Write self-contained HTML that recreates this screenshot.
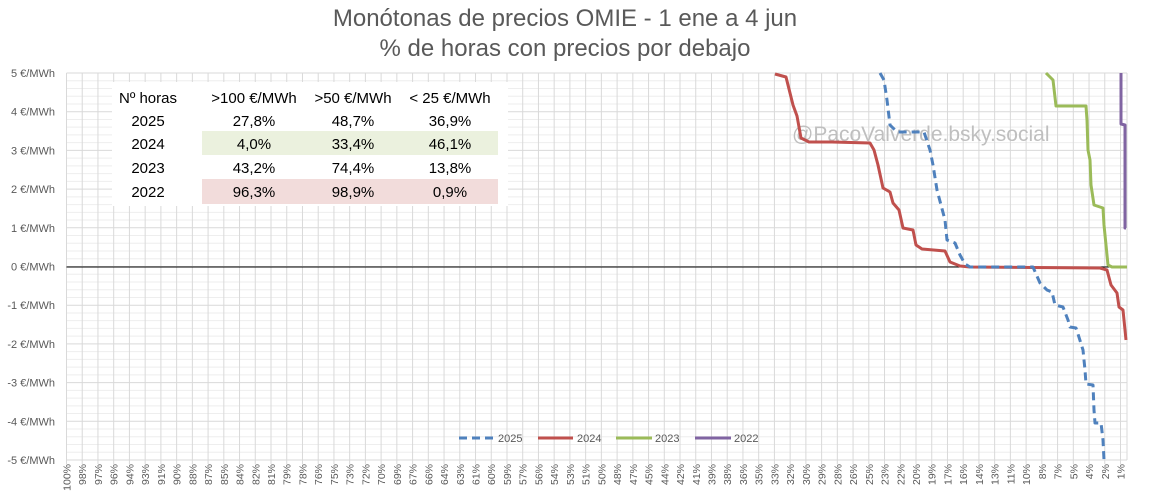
<!DOCTYPE html>
<html><head><meta charset="utf-8"><style>
body{margin:0;background:#fff;}
svg{display:block;font-family:"Liberation Sans",sans-serif;}
</style></head><body>
<svg id="s" width="1156" height="500" xmlns="http://www.w3.org/2000/svg">
<rect width="1156" height="500" fill="#fff"/>
<g id="grid"></g>
<text x="565" y="26" text-anchor="middle" font-size="24" fill="#595959">Monótonas de precios OMIE - 1 ene a 4 jun</text>
<text x="565" y="56" text-anchor="middle" font-size="24" fill="#595959">% de horas con precios por debajo</text>
<g id="yl" font-size="11" fill="#595959" text-anchor="end"></g>
<g id="xl" font-size="10.5" fill="#595959"></g>
<rect x="112" y="82" width="396" height="124" fill="#fff"/>
<rect x="202" y="131" width="296" height="24" fill="#ebf1de"/>
<rect x="202" y="179" width="296" height="25" fill="#f2dcdb"/>
<g font-size="15" fill="#000" text-anchor="middle">
<text x="148" y="103">Nº horas</text><text x="254" y="103">&gt;100 €/MWh</text><text x="353" y="103">&gt;50 €/MWh</text><text x="450" y="103">&lt; 25 €/MWh</text>
<text x="148" y="126">2025</text><text x="254" y="126">27,8%</text><text x="353" y="126">48,7%</text><text x="450" y="126">36,9%</text>
<text x="148" y="149">2024</text><text x="254" y="149">4,0%</text><text x="353" y="149">33,4%</text><text x="450" y="149">46,1%</text>
<text x="148" y="173">2023</text><text x="254" y="173">43,2%</text><text x="353" y="173">74,4%</text><text x="450" y="173">13,8%</text>
<text x="148" y="197">2022</text><text x="254" y="197">96,3%</text><text x="353" y="197">98,9%</text><text x="450" y="197">0,9%</text>
</g>
<text x="792" y="141" font-size="21" fill="#bfbfbf">@PacoValverde.bsky.social</text>
<line x1="66.5" y1="267" x2="1127" y2="267" stroke="#000" stroke-width="1"/>
<g fill="none" stroke-width="3" stroke-linejoin="round">
<polyline stroke="#c0504d" points="775,74 786,77 793,105 797,116 801,138 809,142 832,142 870,143 874,150 878,165 883,188 890,192 893,203 899,210 903,228 913,230 916,245 922,249 945,251 950,262 960,266 970,267 1100,268 1107,270 1111,285 1117,293 1119,307 1123,310 1125,330 1126,340"/>
<polyline stroke="#4f81bd" stroke-dasharray="8,5" points="880,73 884,80 887,100 890,125 897,132 924,132 930,150 933,165 937,190 941,205 945,220 947,240 955,243 960,255 965,264 970,267 1008,267 1033,267 1040,283 1047,290 1052,292 1055,305 1063,307 1068,320 1070,327 1076,328 1078,334 1083,350 1085,370 1086,384 1093,385 1094,410 1095,423 1101,423 1103,440 1104,460 1108,460"/>
<polyline stroke="#9bbb59" points="1046,73 1053,80 1056,106 1086,106 1087,120 1088,150 1090,160 1091,185 1094,205 1103,208 1104,225 1106,245 1108,265 1112,267 1127,267"/>
<polyline stroke="#8064a2" points="1121,73 1121,124 1125,125 1125,228 1126,228"/>
</g>
<g stroke-width="3">
<line x1="459" y1="438" x2="493" y2="438" stroke="#4f81bd" stroke-dasharray="8,5"/>
<line x1="538" y1="438" x2="573" y2="438" stroke="#c0504d"/>
<line x1="616" y1="438" x2="652" y2="438" stroke="#9bbb59"/>
<line x1="695" y1="438" x2="731" y2="438" stroke="#8064a2"/>
</g>
<g font-size="11" fill="#595959">
<text x="498" y="442">2025</text><text x="577" y="442">2024</text><text x="655" y="442">2023</text><text x="734" y="442">2022</text>
</g>
</svg>
<script>
var ns="http://www.w3.org/2000/svg",g=document.getElementById('grid'),yl=document.getElementById('yl'),xl=document.getElementById('xl');
function el(p,t,a,txt){var e=document.createElementNS(ns,t);for(var k in a)e.setAttribute(k,a[k]);if(txt)e.textContent=txt;p.appendChild(e);return e;}
var L=66.5,R=1127,T=73,B=460,u=(B-T)/10;
for(var i=0;i<=50;i++){var y=T+i*u/5;if(i%5)el(g,'line',{x1:L,x2:R,y1:y,y2:y,stroke:'#eeeeee','stroke-width':1});}
for(var i=0;i<=10;i++){var y=T+i*u;el(g,'line',{x1:L,x2:R,y1:y,y2:y,stroke:'#d9d9d9','stroke-width':1});el(yl,'text',{x:55,y:y+4},(5-i)+' €/MWh');}
var labs=[100,98,97,96,94,93,91,90,88,87,85,84,82,81,79,78,76,75,73,72,70,69,67,66,64,63,61,60,59,57,56,54,53,51,50,48,47,45,44,42,41,39,38,36,35,33,32,30,29,28,26,25,23,22,20,19,17,16,14,13,11,10,8,7,5,4,2,1];
var sp=(1120.5-L)/67;
for(var i=0;i<labs.length;i++){var x=L+i*sp;el(g,'line',{x1:x,x2:x,y1:T,y2:B+4,stroke:'#d9d9d9','stroke-width':1});
el(xl,'text',{x:0,y:0,transform:'translate('+(x+4)+','+(B+4)+') rotate(-90)','text-anchor':'end'},labs[i]+'%');}
el(g,'line',{x1:R,x2:R,y1:T,y2:B,stroke:'#d9d9d9','stroke-width':1});
</script>
</body></html>
